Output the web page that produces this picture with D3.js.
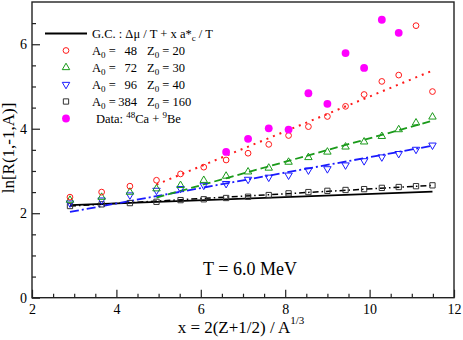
<!DOCTYPE html>
<html>
<head>
<meta charset="utf-8">
<style>
  body { margin: 0; background: #fff; }
  svg text { font-family: "Liberation Serif", "DejaVu Serif", serif; }
</style>
</head>
<body>
<div id="chart"></div>
<script src="https://d3js.org/d3.v7.min.js"></script>
<script>
// values
var xVals = [2.90, 3.65, 4.32, 4.95, 5.52, 6.07, 6.60, 7.12, 7.61, 8.08, 8.55, 9.00, 9.43, 9.87, 10.29, 10.69, 11.10, 11.49];
var a48 = [2.38, 2.50, 2.64, 2.78, 2.93, 3.09, 3.26, 3.42, 3.63, 3.84, 4.05, 4.29, 4.53, 4.81, 5.12, 5.27, 6.44, 4.88];
var a72 = [2.31, 2.38, 2.50, 2.58, 2.66, 2.78, 2.88, 2.98, 3.07, 3.21, 3.32, 3.45, 3.57, 3.69, 3.82, 3.98, 4.14, 4.28];
var a96 = [2.24, 2.31, 2.43, 2.54, 2.58, 2.66, 2.70, 2.80, 2.85, 2.90, 3.02, 3.05, 3.14, 3.24, 3.33, 3.41, 3.51, 3.61];
var a384 = [2.17, 2.21, 2.24, 2.27, 2.31, 2.33, 2.36, 2.39, 2.43, 2.47, 2.50, 2.53, 2.55, 2.57, 2.60, 2.62, 2.64, 2.66];

var dataX = [6.60, 7.12, 7.61, 8.08, 8.55, 9.00, 9.43, 9.87, 10.29, 10.69];
var dataY = [3.45, 3.76, 4.01, 3.98, 4.84, 4.59, 5.79, 5.44, 6.58, 6.27];

// line end points
var gcLine = [[2.9, 2.19], [11.49, 2.51]];
var fit48 = [[4.95, 2.68], [11.45, 5.36]];
var fit72 = [[4.95, 2.37], [11.5, 4.19]];
var fit96 = [[2.9, 2.03], [11.5, 3.60]];
var fit384 = [[2.9, 2.17], [11.5, 2.66]];

var xTicks = [2, 4, 6, 8, 10, 12];
var xMinor = [2.5, 3, 3.5, 4.5, 5, 5.5, 6.5, 7, 7.5, 8.5, 9, 9.5, 10.5, 11, 11.5];
var yTicks = [0, 2, 4, 6];
var yMinor = [0.5, 1, 1.5, 2.5, 3, 3.5, 4.5, 5, 5.5, 6.5];

var W = 463, H = 340;
var pLeft = 32, pRight = 454, pTop = 2, pBottom = 297.7;

var svg = d3.select("#chart").append("svg")
    .attr("width", W)
    .attr("height", H);

var x = d3.scaleLinear().domain([2, 12]).range([pLeft, pRight]);
var y = d3.scaleLinear().domain([0, 7]).range([pBottom, pTop]);

// axes, ticks pointing in
svg.append("g")
    .attr("transform", "translate(0," + pBottom + ")")
    .call(d3.axisBottom(x).tickValues(xMinor).tickSize(-4).tickFormat(""))
    .call(function(g) { g.select(".domain").remove(); });
svg.append("g")
    .attr("transform", "translate(0," + pBottom + ")")
    .style("font-size", "14px")
    .call(d3.axisBottom(x).tickValues(xTicks).tickSize(-8).tickPadding(6).tickFormat(d3.format("d")))
    .call(function(g) { g.select(".domain").remove(); });

svg.append("g")
    .attr("transform", "translate(" + pLeft + ",0)")
    .call(d3.axisLeft(y).tickValues(yMinor).tickSize(-4).tickFormat(""))
    .call(function(g) { g.select(".domain").remove(); });
svg.append("g")
    .attr("transform", "translate(" + pLeft + ",0)")
    .style("font-size", "14px")
    .call(d3.axisLeft(y).tickValues(yTicks).tickSize(-8).tickPadding(5).tickFormat(d3.format("d")))
    .call(function(g) { g.select(".domain").remove(); });

svg.selectAll(".tick line").attr("stroke", "#222").attr("stroke-width", 1.2);
svg.selectAll(".tick text").attr("fill", "#000").style("font-family", "Liberation Serif");

svg.append("rect")
    .attr("x", pLeft).attr("y", pTop)
    .attr("width", pRight - pLeft).attr("height", pBottom - pTop)
    .attr("fill", "none")
    .attr("stroke", "#222")
    .attr("stroke-width", 1.4);

// axis titles
var xt = svg.append("text")
    .attr("x", 241).attr("y", 333)
    .attr("text-anchor", "middle")
    .style("font-size", "17px");
xt.append("tspan").text("x = 2(Z+1/2) / A");
xt.append("tspan").attr("dy", -9).style("font-size", "11px").text("1/3");

svg.append("text")
    .attr("transform", "translate(14,148) rotate(-90)")
    .attr("text-anchor", "middle")
    .style("font-size", "17px")
    .text("ln[R(1,-1,A)]");

svg.append("text")
    .attr("x", 250).attr("y", 275)
    .attr("text-anchor", "middle")
    .style("font-size", "18px")
    .text("T = 6.0 MeV");

// lines
var line = d3.line()
    .x(function(d) { return x(d[0]); })
    .y(function(d) { return y(d[1]); });

var lines = [
  { pts: gcLine, color: "#000", dash: null, w: 1.8 },
  { pts: fit384, color: "#000", dash: "6,3,1.5,3", w: 1.5 },
  { pts: fit96, color: "#1a1aff", dash: "9,3,2,3", w: 1.8 },
  { pts: fit72, color: "#1a9a1a", dash: "8,4", w: 1.8 },
  { pts: fit48, color: "#ff1a1a", dash: "2,5", w: 2 }
];
lines.forEach(function(l) {
  svg.append("path")
      .attr("d", line(l.pts))
      .attr("fill", "none")
      .attr("stroke", l.color)
      .attr("stroke-width", l.w)
      .attr("stroke-dasharray", l.dash);
});

// markers
var sym = {
  circle: d3.symbol().type(d3.symbolCircle).size(26),
  up: d3.symbol().type(d3.symbolTriangle).size(24),
  square: d3.symbol().type(d3.symbolSquare).size(28),
  dot: d3.symbol().type(d3.symbolCircle).size(48)
};

function drawSeries(vals, xs, path, color, filled, rot) {
  svg.append("g").selectAll("path")
    .data(vals)
    .enter().append("path")
      .attr("d", path)
      .attr("transform", function(d, i) {
        return "translate(" + x(xs[i]) + "," + y(d) + ")" + (rot ? " rotate(180)" : "");
      })
      .attr("fill", filled ? color : "#fff")
      .attr("fill-opacity", filled ? 1 : 0)
      .attr("stroke", filled ? "none" : color)
      .attr("stroke-width", 1);
}

drawSeries(a384, xVals, sym.square, "#333", false, false);
drawSeries(a96, xVals, sym.up, "#1a1aff", false, true);
drawSeries(a72, xVals, sym.up, "#1a9a1a", false, false);
drawSeries(a48, xVals, sym.circle, "#ff1a1a", false, false);
drawSeries(dataY, dataX, sym.dot, "#ff00ff", true, false);

// legend
var lx = 66, rows = [33.5, 50.5, 67.5, 84.5, 101.5, 118.5];
var lg = svg.append("g").style("font-size", "12.5px");

lg.append("line")
    .attr("x1", 45).attr("x2", 87)
    .attr("y1", rows[0]).attr("y2", rows[0])
    .attr("stroke", "#000").attr("stroke-width", 1.8);
var t0 = lg.append("text").attr("x", 92).attr("y", rows[0] + 4);
t0.append("tspan").text("G.C. :  \u0394\u03bc / T + x a*");
t0.append("tspan").attr("dy", 3).style("font-size", "9px").text("c");
t0.append("tspan").attr("dy", -3).text(" / T");

var legendRows = [
  { a: "48", z: "20", path: sym.circle, color: "#ff1a1a", rot: false },
  { a: "72", z: "30", path: sym.up, color: "#1a9a1a", rot: false },
  { a: "96", z: "40", path: sym.up, color: "#1a1aff", rot: true },
  { a: "384", z: "160", path: sym.square, color: "#333", rot: false }
];
legendRows.forEach(function(r, i) {
  var yy = rows[i + 1];
  lg.append("path")
      .attr("d", r.path)
      .attr("transform", "translate(" + lx + "," + yy + ")" + (r.rot ? " rotate(180)" : ""))
      .attr("fill", "none")
      .attr("stroke", r.color);
  var t = lg.append("text").attr("x", 92).attr("y", yy + 4);
  t.append("tspan").text("A");
  t.append("tspan").attr("dy", 3).style("font-size", "9px").text("0");
  t.append("tspan").attr("dy", -3).text(" =");
  lg.append("text").attr("x", 137).attr("y", yy + 4).attr("text-anchor", "end").text(r.a);
  var tz = lg.append("text").attr("x", 147).attr("y", yy + 4);
  tz.append("tspan").text("Z");
  tz.append("tspan").attr("dy", 3).style("font-size", "9px").text("0");
  tz.append("tspan").attr("dy", -3).text(" = " + r.z);
});

lg.append("path")
    .attr("d", sym.dot)
    .attr("transform", "translate(" + lx + "," + rows[5] + ")")
    .attr("fill", "#ff00ff");
var td = lg.append("text").attr("x", 96).attr("y", rows[5] + 4);
td.append("tspan").text("Data: ");
td.append("tspan").attr("dy", -5).style("font-size", "9px").text("48");
td.append("tspan").attr("dy", 5).text("Ca + ");
td.append("tspan").attr("dy", -5).style("font-size", "9px").text("9");
td.append("tspan").attr("dy", 5).text("Be");
</script>
</body>
</html>
